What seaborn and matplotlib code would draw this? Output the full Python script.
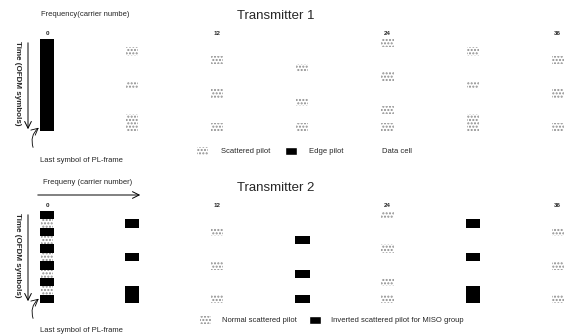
import numpy as np
import matplotlib
matplotlib.use("Agg")
import matplotlib.pyplot as plt
import seaborn as sns
from matplotlib.colors import ListedColormap
from matplotlib.patches import Patch

# 0. Datos del patrón de pilotos
n_symbols = 11          # símbolos OFDM (el último es el de cierre de trama)
n_carriers = 38         # portadoras visibles
carrier_ticks = [0, 12, 24, 36]

# portadora -> símbolos con piloto disperso
pilot_carriers = [6, 12, 18, 24, 30, 36]
pilot_symbols = [
    [1, 5, 9, 10],
    [2, 6, 10],
    [3, 7, 10],
    [0, 4, 8, 10],
    [1, 5, 9, 10],
    [2, 6, 10],
]

tx1_edge_symbols = list(range(n_symbols))
tx2_inverted_carriers = [6, 18, 30]
tx2_edge_inverted = [0, 2, 4, 6, 8, 10]
tx2_edge_normal = [1, 3, 5, 7, 9]

DATA, NORMAL, BLACK = 0, 1, 2

# 1. Estilo
sns.set_theme(style="white")
plt.rcParams["font.family"] = ["Liberation Sans", "DejaVu Sans"]

W, H = 583, 336
fig = plt.figure(figsize=(W / 100, H / 100), dpi=100)


def fx(x):
    return x / W


def fy(y):
    return 1 - y / H


def build_grid(edge_normal, edge_black, inverted):
    g = np.zeros((n_symbols, n_carriers), dtype=int)
    for s in edge_normal:
        g[s, 0] = NORMAL
    for s in edge_black:
        g[s, 0] = BLACK
    for k, syms in zip(pilot_carriers, pilot_symbols):
        for s in syms:
            g[s, k] = BLACK if k in inverted else NORMAL
    return g


tx1 = build_grid([], tx1_edge_symbols, [])
tx2 = build_grid(tx2_edge_normal, tx2_edge_inverted, tx2_inverted_carriers)

HATCH_COLOR = "#8c8c8c"


def draw_panel(ax, grid):
    sns.heatmap(grid, ax=ax, cmap=ListedColormap(["white", "white", "black"]),
                vmin=0, vmax=2, cbar=False, xticklabels=False, yticklabels=False)
    rows, cols = np.nonzero(grid == NORMAL)
    ax.bar(cols + 0.5, 1, bottom=rows, width=0.85, facecolor="white",
           edgecolor=HATCH_COLOR, hatch=".....", linewidth=0)
    ax.set_xlim(0, n_carriers)
    ax.set_ylim(n_symbols, 0)
    ax.set_xticks([k + 0.5 for k in carrier_ticks])
    ax.set_xticklabels([str(k) for k in carrier_ticks], fontsize=4.5, fontweight="bold")
    ax.xaxis.tick_top()
    ax.tick_params(axis="x", length=0, pad=2)
    ax.set_yticks([])


ax1 = fig.add_axes([fx(40), fy(131), fx(579) - fx(40), (131 - 39) / H])
ax2 = fig.add_axes([fx(40), fy(303), fx(579) - fx(40), (303 - 211) / H])
draw_panel(ax1, tx1)
draw_panel(ax2, tx2)

# 2. Títulos y rótulos
fig.text(fx(276), fy(16), "Transmitter 1", ha="center", va="center", fontsize=9.5)
fig.text(fx(276), fy(188), "Transmitter 2", ha="center", va="center", fontsize=9.5)

fig.text(fx(85), fy(14), "Frequency(carrier numbe)", ha="center", va="center", fontsize=5.5)
fig.text(fx(88), fy(183), "Frequeny (carrier number)", ha="center", va="center", fontsize=5.5)
ax2.annotate("", xy=(fx(143), fy(195)), xytext=(fx(35), fy(195)), xycoords="figure fraction",
             arrowprops=dict(arrowstyle="->", lw=0.7, color="black"), annotation_clip=False)

for ax, top, bottom in [(ax1, 40, 132), (ax2, 212, 304)]:
    ax.annotate("", xy=(fx(28), fy(bottom)), xytext=(fx(28), fy(top)), xycoords="figure fraction",
                arrowprops=dict(arrowstyle="->", lw=0.7, color="black"), annotation_clip=False)
    fig.text(fx(17), fy((top + bottom) / 2 - 3), "Time (OFDM symbols)", rotation=270,
             ha="center", va="center", fontsize=5.8, fontweight="bold")

for ax, ytxt, ystart, yend in [(ax1, 160, 150, 126), (ax2, 331, 321, 297)]:
    fig.text(fx(40), fy(ytxt), "Last symbol of PL-frame", ha="left", va="center", fontsize=5.5)
    ax.annotate("", xy=(fx(41), fy(yend)), xytext=(fx(34), fy(ystart)), xycoords="figure fraction",
                arrowprops=dict(arrowstyle="->", lw=0.6, color="black",
                                connectionstyle="arc3,rad=-0.4"), annotation_clip=False)

# 3. Leyendas
hatched = dict(facecolor="white", edgecolor=HATCH_COLOR, hatch=".....", linewidth=0)
leg1 = [Patch(label="Scattered pilot", **hatched),
        Patch(facecolor="black", label="Edge pilot"),
        Patch(facecolor="white", edgecolor="none", label="Data cell")]
leg2 = [Patch(label="Normal scattered pilot", **hatched),
        Patch(facecolor="black", label="Inverted scattered pilot for MISO group")]

fig.legend(handles=leg1, loc="center left", bbox_to_anchor=(fx(190), fy(151)), ncol=3,
           frameon=False, fontsize=5.5, handlelength=1.5, handleheight=1.3,
           handletextpad=1.6, columnspacing=2.0)
fig.legend(handles=leg2, loc="center left", bbox_to_anchor=(fx(193), fy(320)), ncol=2,
           frameon=False, fontsize=5.5, handlelength=1.5, handleheight=1.3,
           handletextpad=1.4, columnspacing=1.6)

fig.savefig("out.png", dpi=100)
